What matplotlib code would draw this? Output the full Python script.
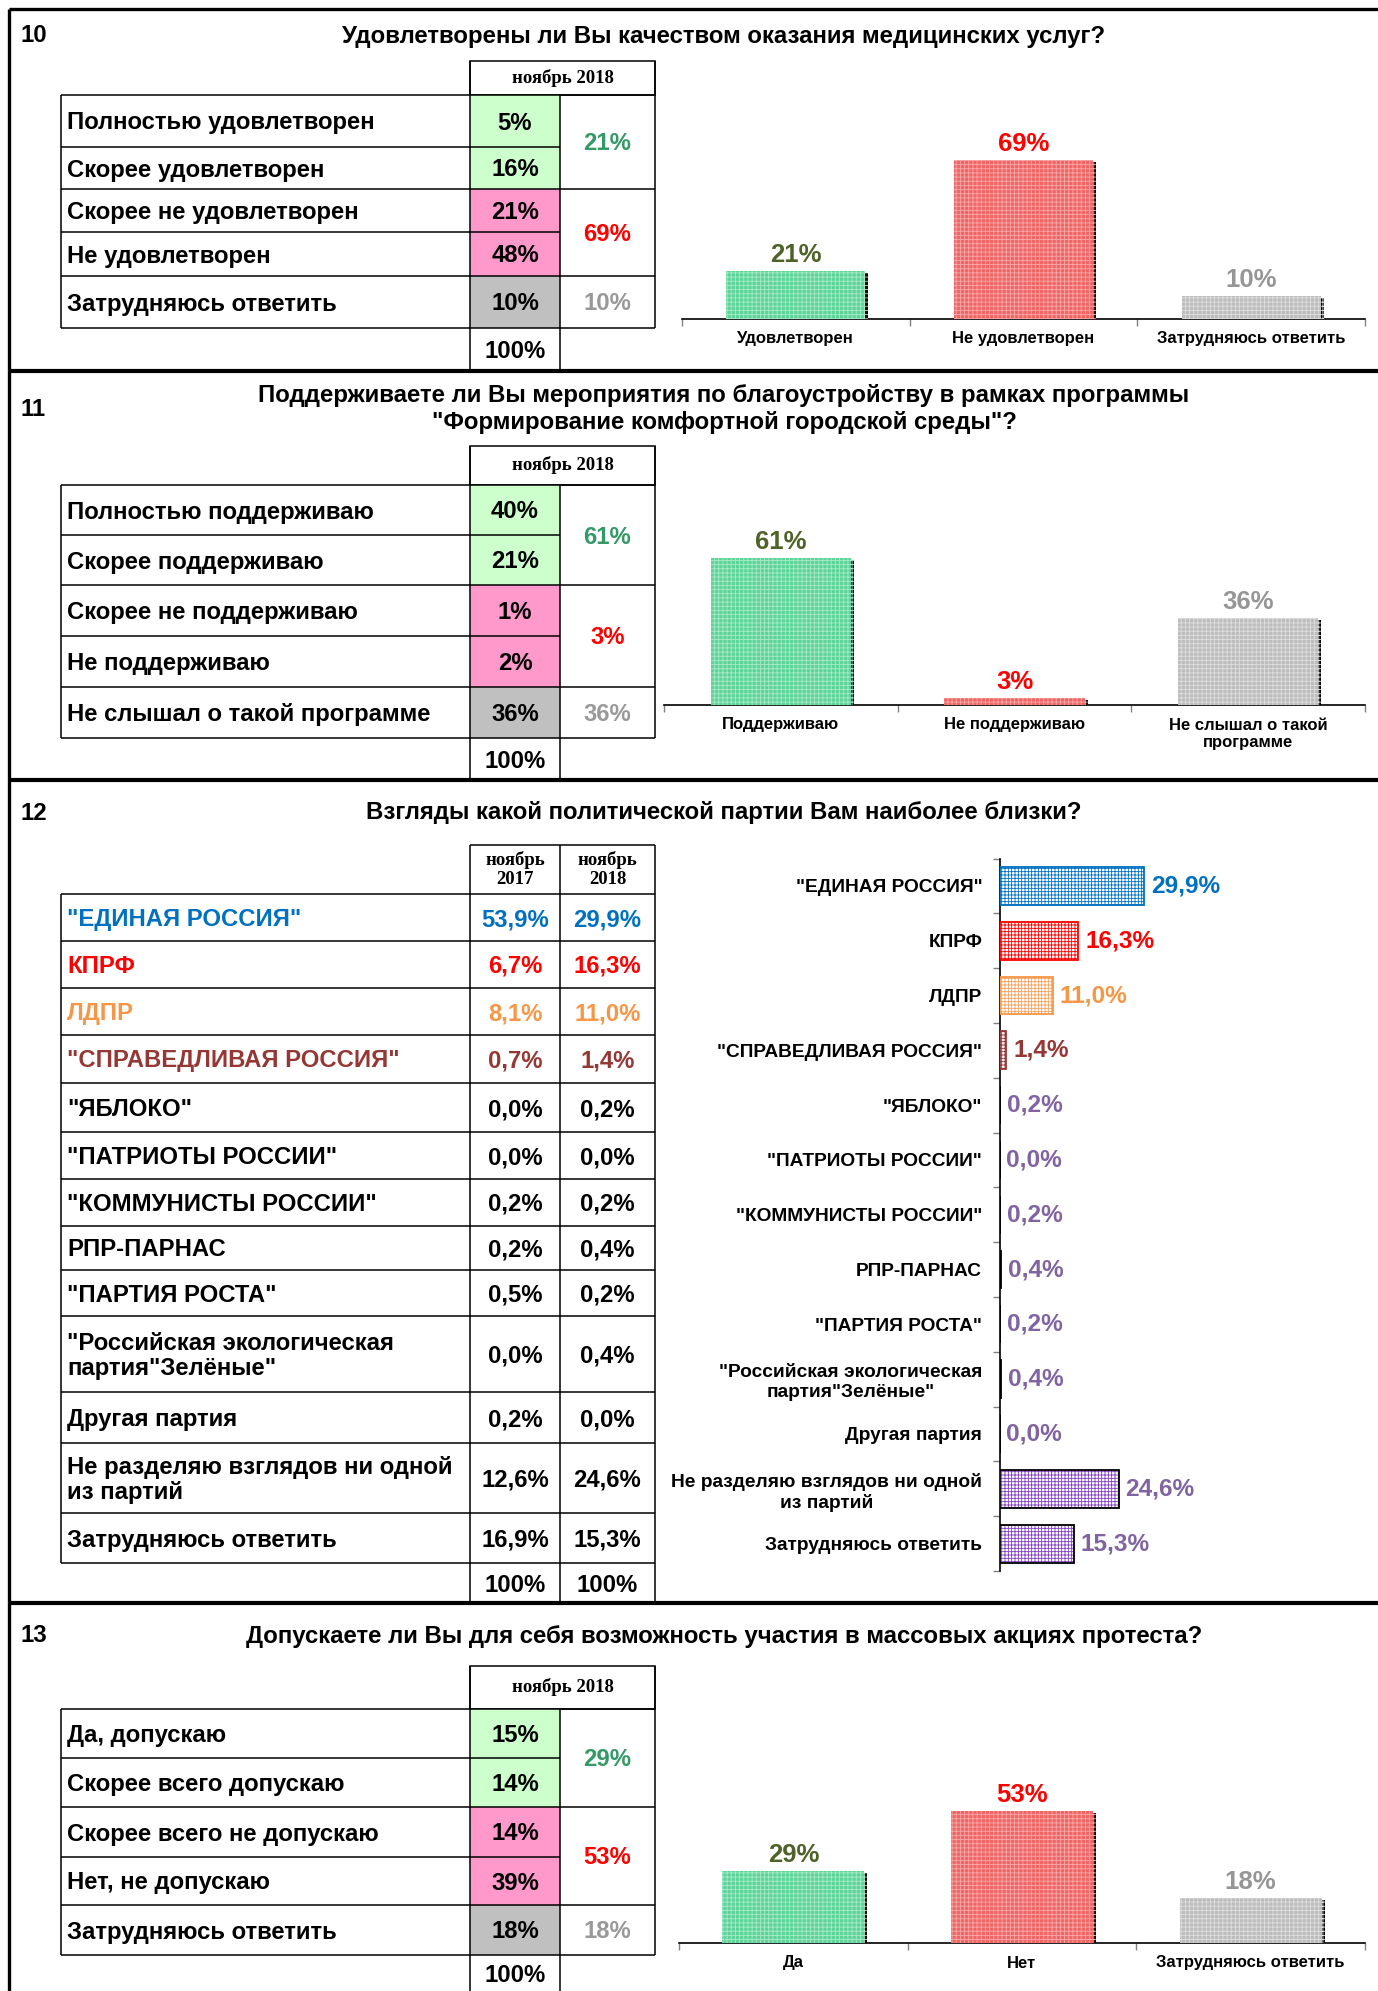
import matplotlib
matplotlib.use("Agg")
import matplotlib.pyplot as plt
import matplotlib.patheffects as pe
from matplotlib.patches import Rectangle

W, H = 1378, 1991
plt.rcParams['font.family'] = ['Liberation Sans', 'DejaVu Sans']
plt.rcParams['font.weight'] = 'bold'
plt.rcParams['hatch.linewidth'] = 0.6

# ---- data ----
q10_title = "Удовлетворены ли Вы качеством оказания медицинских услуг?"
q10_rows = ["Полностью удовлетворен", "Скорее удовлетворен", "Скорее не удовлетворен",
            "Не удовлетворен", "Затрудняюсь ответить"]
q10_vals = [5, 16, 21, 48, 10]
q10_sums = [21, 69, 10]
q10_cats = ["Удовлетворен", "Не удовлетворен", "Затрудняюсь ответить"]

q11_title = ("Поддерживаете ли Вы мероприятия по благоустройству в рамках программы\n"
             "\"Формирование комфортной городской среды\"?")
q11_rows = ["Полностью поддерживаю", "Скорее поддерживаю", "Скорее не поддерживаю",
            "Не поддерживаю", "Не слышал о такой программе"]
q11_vals = [40, 21, 1, 2, 36]
q11_sums = [61, 3, 36]
q11_cats = ["Поддерживаю", "Не поддерживаю", "Не слышал о такой\nпрограмме"]

q12_title = "Взгляды какой политической партии Вам наиболее близки?"
q12_parties = ["\"ЕДИНАЯ РОССИЯ\"", "КПРФ", "ЛДПР", "\"СПРАВЕДЛИВАЯ РОССИЯ\"", "\"ЯБЛОКО\"",
               "\"ПАТРИОТЫ РОССИИ\"", "\"КОММУНИСТЫ РОССИИ\"", "РПР-ПАРНАС", "\"ПАРТИЯ РОСТА\"",
               "\"Российская экологическая\nпартия\"Зелёные\"", "Другая партия",
               "Не разделяю взглядов ни одной\nиз партий", "Затрудняюсь ответить"]
q12_2017 = [53.9, 6.7, 8.1, 0.7, 0.0, 0.0, 0.2, 0.2, 0.5, 0.0, 0.2, 12.6, 16.9]
q12_2018 = [29.9, 16.3, 11.0, 1.4, 0.2, 0.0, 0.2, 0.4, 0.2, 0.4, 0.0, 24.6, 15.3]
q12_periods = ["ноябрь\n2017", "ноябрь\n2018"]

q13_title = "Допускаете ли Вы для себя возможность участия в массовых акциях протеста?"
q13_rows = ["Да, допускаю", "Скорее всего допускаю", "Скорее всего не допускаю",
            "Нет, не допускаю", "Затрудняюсь ответить"]
q13_vals = [15, 14, 14, 39, 18]
q13_sums = [29, 53, 18]
q13_cats = ["Да", "Нет", "Затрудняюсь ответить"]

# ---- styles ----
CELL = ["#ccffcc", "#ccffcc", "#ff99cc", "#ff99cc", "#c0c0c0"]
SUM_COL = ["#339966", "#ff0000", "#999999"]
BAR_FACE = ["#5ed49a", "#f06666", "#bdbdbd"]
BAR_HATCH = ["#a6ebc6", "#f9a8a8", "#dedede"]
BAR_LBL = ["#4f6228", "#ff0000", "#969696"]
PARTY_COL = ["#0070c0", "#ff0000", "#f79646", "#953735"] + ["#000000"] * 9
BAR12_HATCH = ["#0070c0", "#ff0000", "#f7a25c", "#953735"] + ["#7f3fbf"] * 9
BAR12_EDGE = ["#0070c0", "#ff0000", "#f79646", "#953735"] + ["#000000"] * 9
VAL12_COL = ["#0070c0", "#ff0000", "#f79646", "#953735"] + ["#8064a2"] * 9

X0, X1, X2, X3 = 61, 470, 560, 655
LW = 1.1
FS = 17.2
FS_TITLE = 17.3
FS_HEAD = 13.5
DY = 2  # text sits a little below the cell centre

fig = plt.figure(figsize=(W / 100, H / 100), dpi=100)
base = fig.add_axes([0, 0, 1, 1])
base.set_xlim(0, W)
base.set_ylim(H, 0)
base.axis("off")


def hline(y, xa, xb, lw=LW):
    base.plot([xa, xb], [y, y], color="black", lw=lw, solid_capstyle="butt")


def vline(x, ya, yb, lw=LW):
    base.plot([x, x], [ya, yb], color="black", lw=lw, solid_capstyle="butt")


def px_axes(xa, ya, xb, yb):
    ax = fig.add_axes([xa / W, 1 - yb / H, (xb - xa) / W, (yb - ya) / H])
    ax.patch.set_alpha(0)
    return ax


def header(num, title, y):
    base.text(20, y, num, fontsize=FS_TITLE, ha="left", va="center")
    base.text(724, y, title, fontsize=FS_TITLE, ha="center", va="center", linespacing=1.25)


def single_table(y_head, rb, labels, vals, sums, bottom):
    base.add_patch(Rectangle((X1, y_head), X3 - X1, rb[0] - y_head, fill=False, lw=LW, ec="black"))
    base.text((X1 + X3) / 2, (y_head + rb[0]) / 2, "ноябрь 2018", family="Liberation Serif",
              fontsize=FS_HEAD, ha="center", va="center")
    for i, (lab, v) in enumerate(zip(labels, vals)):
        mid = (rb[i] + rb[i + 1]) / 2 + DY
        base.add_patch(Rectangle((X1, rb[i]), X2 - X1, rb[i + 1] - rb[i], fc=CELL[i], ec="none"))
        base.text(X0 + 6, mid, lab, fontsize=FS, ha="left", va="center")
        base.text((X1 + X2) / 2, mid, f"{v}%", fontsize=FS, ha="center", va="center")
    for y in rb:
        hline(y, X0, X2)
    groups = [(0, 2), (2, 4), (4, 5)]
    for (a, b), s, c in zip(groups, sums, SUM_COL):
        hline(rb[a], X2, X3)
        base.text((X2 + X3) / 2, (rb[a] + rb[b]) / 2 + DY, f"{s}%", fontsize=FS, ha="center",
                  va="center", color=c)
    hline(rb[-1], X2, X3)
    vline(X0, rb[0], rb[-1])
    vline(X1, y_head, bottom)
    vline(X2, rb[0], bottom)
    vline(X3, y_head, rb[-1])
    base.text((X1 + X2) / 2, (rb[-1] + bottom) / 2 + DY, "100%", fontsize=FS, ha="center", va="center")


def vbar_chart(xa, xb, baseline, top, cats, vals, pxper, width):
    ax = px_axes(xa, top, xb, baseline)
    n = len(cats)
    ax.set_xlim(-0.5, n - 0.5)
    ax.set_ylim(0, (baseline - top) / pxper)
    bars = ax.bar(range(n), vals, width=width, color=BAR_FACE, edgecolor=BAR_HATCH,
                  hatch="++++", linewidth=0, zorder=3)
    for b in bars:
        b.set_path_effects([pe.SimplePatchShadow(offset=(2.2, -1.5), shadow_rgbFace="black", alpha=1),
                            pe.Normal()])
    for i, v in enumerate(vals):
        ax.annotate(f"{v}%", (i, v), xytext=(0, 3), textcoords="offset points", ha="center",
                    va="bottom", fontsize=18.5, color=BAR_LBL[i], annotation_clip=False)
    for s in ["left", "right", "top"]:
        ax.spines[s].set_visible(False)
    ax.spines["bottom"].set_linewidth(1.2)
    ax.set_yticks([])
    ax.set_xticks([i - 0.5 for i in range(n + 1)])
    ax.set_xticklabels([])
    ax.set_xticks(range(n), minor=True)
    ax.set_xticklabels(cats, minor=True, fontsize=12, fontweight="bold")
    ax.tick_params(axis="x", which="major", length=5, width=1, color="#808080")
    ax.tick_params(axis="x", which="minor", length=0, pad=9)
    return ax


# ---- frame ----
vline(9, 9, H, lw=2.4)
hline(9, 9, W, lw=2.4)
for y in [371, 780, 1603]:
    hline(y, 9, W, lw=3)

# ---- 10 ----
header("10", q10_title, 36)
single_table(61, [95, 147, 189, 232, 276, 328], q10_rows, q10_vals, q10_sums, 371)
vbar_chart(682, 1365, 319, 120, q10_cats, q10_sums, 2.30, 0.61)

# ---- 11 ----
header("11", q11_title, 409)
single_table(446, [485, 535, 585, 636, 687, 738], q11_rows, q11_vals, q11_sums, 780)
vbar_chart(664, 1365, 705, 500, q11_cats, q11_sums, 2.41, 0.60)

# ---- 12 ----
header("12", q12_title, 813)
rb12 = [894, 941, 988, 1035, 1083, 1132, 1179, 1226, 1270, 1316, 1392, 1443, 1513, 1563]
bottom12 = 1603
for j, per in enumerate(q12_periods):
    xa, xb = (X1, X2) if j == 0 else (X2, X3)
    base.text((xa + xb) / 2, (845 + rb12[0]) / 2, per, family="Liberation Serif", fontsize=FS_HEAD,
              ha="center", va="center", linespacing=1.1)
hline(845, X1, X3)
fmt = lambda v: f"{v:.1f}%".replace(".", ",")
for i, p in enumerate(q12_parties):
    mid = (rb12[i] + rb12[i + 1]) / 2 + DY
    c = PARTY_COL[i]
    base.text(X0 + 6, mid, p, fontsize=FS, ha="left", va="center", color=c, linespacing=1.15)
    base.text((X1 + X2) / 2, mid, fmt(q12_2017[i]), fontsize=FS, ha="center", va="center", color=c)
    base.text((X2 + X3) / 2, mid, fmt(q12_2018[i]), fontsize=FS, ha="center", va="center", color=c)
for y in rb12:
    hline(y, X0, X3)
vline(X0, rb12[0], rb12[-1])
for x in [X1, X2, X3]:
    vline(x, 845, bottom12)
for xa, xb in [(X1, X2), (X2, X3)]:
    base.text((xa + xb) / 2, (rb12[-1] + bottom12) / 2 + DY, "100%", fontsize=FS, ha="center", va="center")

ax12 = px_axes(999.5, 858.5, 1365, 1571)
n12 = len(q12_parties)
ax12.set_ylim(n12 - 0.5, -0.5)
ax12.set_xlim(0, (1365 - 999.5) / 4.84)
ax12.barh(range(n12), q12_2018, height=0.69, color="white", edgecolor=BAR12_HATCH,
          hatch="+++++", linewidth=0, zorder=3)
ax12.barh(range(n12), q12_2018, height=0.69, fill=False, edgecolor=BAR12_EDGE, linewidth=1.3, zorder=4)
for i, v in enumerate(q12_2018):
    ax12.annotate(fmt(v), (v, i), xytext=(5, 0), textcoords="offset points", ha="left",
                  va="center", fontsize=17.6, color=VAL12_COL[i], annotation_clip=False)
for s in ["right", "top", "bottom"]:
    ax12.spines[s].set_visible(False)
ax12.spines["left"].set_linewidth(1.2)
ax12.set_xticks([])
ax12.set_yticks([i - 0.5 for i in range(n12 + 1)])
ax12.set_yticklabels([])
ax12.set_yticks(range(n12), minor=True)
ax12.set_yticklabels(q12_parties, minor=True, fontsize=13.8, fontweight="bold")
for t in ax12.get_yticklabels(minor=True):
    t.set_multialignment("center")
    t.set_linespacing(1.2)
ax12.tick_params(axis="y", which="major", length=5, width=1, color="#808080")
ax12.tick_params(axis="y", which="minor", length=0, pad=12.5)

# ---- 13 ----
header("13", q13_title, 1636)
single_table(1666, [1709, 1758, 1807, 1857, 1905, 1955], q13_rows, q13_vals, q13_sums, 1991)
vbar_chart(679, 1365, 1943, 1740, q13_cats, q13_sums, 2.49, 0.62)

fig.savefig("out.png", dpi=100)
